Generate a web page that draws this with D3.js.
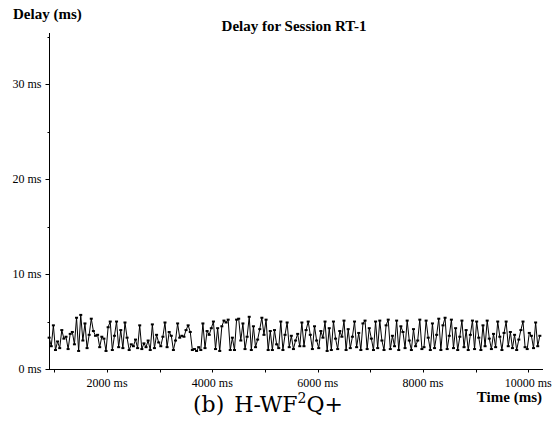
<!DOCTYPE html>
<html>
<head>
<meta charset="utf-8">
<script src="https://cdn.jsdelivr.net/npm/d3@7"></script>
<style>
  body { margin: 0; background: #fff; }
  text { font-family: "Liberation Serif", "DejaVu Serif", serif; fill: #000; }
  .bold { font-weight: bold; font-size: 15px; }
  .tick-label { font-size: 12px; }
</style>
</head>
<body>
<div id="chart-area"></div>
<script>
// Data: delay samples (ms), one every 40 ms starting at 900 ms
let startTime = 900;
let sampleStep = 40;
let delays = [
  3.3, 2.4, 4.6, 2.0, 2.9, 2.2, 4.1, 3.2, 3.4, 2.1,
  3.7, 3.9, 2.6, 5.4, 1.9, 5.7, 3.0, 4.8, 2.2, 3.6,
  5.3, 4.0, 3.5, 3.6, 2.3, 3.4, 3.2, 1.9, 4.4, 5.0,
  2.0, 3.5, 5.0, 2.3, 4.1, 2.2, 4.9, 3.3, 2.0, 2.6,
  2.4, 3.1, 2.2, 4.6, 2.1, 2.7, 2.3, 3.0, 2.0, 4.7,
  2.2, 3.6, 2.8, 2.4, 3.4, 4.9, 2.3, 3.9, 3.5, 2.0,
  3.0, 4.8, 3.3, 3.5, 3.4, 4.1, 4.6, 3.9, 2.0, 2.1,
  1.9, 2.3, 2.0, 4.8, 2.2, 4.0, 3.6, 4.3, 5.0, 2.1,
  4.3, 1.9, 4.5, 5.1, 4.9, 5.2, 2.0, 3.3, 2.0, 5.2,
  5.3, 3.0, 4.8, 2.1, 3.4, 5.5, 2.0, 4.5, 2.3, 3.1,
  4.2, 5.4, 3.6, 5.2, 2.0, 4.0, 2.0, 4.1, 2.6, 2.2,
  5.0, 2.0, 3.6, 4.9, 2.3, 3.5, 2.1, 3.0, 3.7, 2.4,
  4.9, 2.4, 4.1, 5.0, 3.6, 2.1, 4.5, 3.0, 2.2, 4.0,
  3.3, 5.0, 1.9, 4.3, 2.0, 5.0, 3.2, 2.1, 4.0, 3.4,
  5.1, 2.0, 4.2, 2.2, 3.4, 5.0, 2.3, 3.8, 2.0, 4.8,
  5.1, 2.1, 4.3, 3.2, 2.0, 5.0, 2.2, 5.1, 3.0, 2.0,
  4.6, 5.2, 2.1, 3.5, 2.4, 5.1, 2.0, 4.5, 3.9, 2.2,
  5.1, 3.0, 2.0, 4.2, 2.4, 3.0, 5.2, 2.1, 2.3, 5.1,
  3.3, 2.0, 4.8, 2.2, 3.6, 5.3, 2.0, 4.6, 5.4, 2.1,
  3.5, 5.2, 2.2, 4.3, 2.0, 3.4, 5.1, 2.3, 4.1, 2.0,
  3.6, 5.1, 2.1, 5.0, 3.3, 2.0, 4.6, 2.4, 5.1, 3.2,
  2.1, 3.7, 2.3, 5.0, 3.4, 2.0, 3.8, 5.0, 2.4, 3.9,
  2.2, 3.6, 2.0, 3.1, 4.1, 5.0, 2.3, 2.1, 3.8, 3.5,
  2.2, 4.9, 2.4, 3.5
];

let xTicks = [1000, 2000, 3000, 4000, 5000, 6000, 7000, 8000, 9000, 10000];
let xTickLabels = [2000, 4000, 6000, 8000, 10000];
let yTicks = [0, 10, 20, 30];
let yMinorTicks = [5, 15, 25, 35];

let data = delays.map((d, i) => ({ time: startTime + i * sampleStep, delay: d }));

// SVG drawing area
let width = 556, height = 433;
let svg = d3.select('#chart-area').append('svg')
  .attr('width', width)
  .attr('height', height);

// Scales
let x = d3.scaleLinear().domain([897, 10280]).range([49, 543]);
let y = d3.scaleLinear().domain([0, 35.4]).range([369, 33]);

// Axes
let xAxis = svg.append('g').attr('transform', 'translate(0,369.5)');
xAxis.append('line')
  .attr('x1', x.range()[0]).attr('x2', x.range()[1])
  .attr('stroke', '#000');
xAxis.selectAll('.xt').data(xTicks).enter().append('line')
  .attr('x1', d => Math.round(x(d)) + 0.5).attr('x2', d => Math.round(x(d)) + 0.5)
  .attr('y1', 0).attr('y2', 3)
  .attr('stroke', '#000');
xAxis.selectAll('.xl').data(xTickLabels).enter().append('text')
  .attr('class', 'tick-label')
  .attr('x', d => x(d)).attr('y', 17)
  .attr('text-anchor', 'middle')
  .text(d => d + ' ms');

let yAxis = svg.append('g').attr('transform', 'translate(49.5,0)');
yAxis.append('line')
  .attr('y1', y.range()[1]).attr('y2', y.range()[0])
  .attr('stroke', '#000');
yAxis.selectAll('.yt').data(yTicks).enter().append('line')
  .attr('y1', d => Math.round(y(d)) + 0.5).attr('y2', d => Math.round(y(d)) + 0.5)
  .attr('x1', -4).attr('x2', 0)
  .attr('stroke', '#000');
yAxis.selectAll('.ym').data(yMinorTicks).enter().append('line')
  .attr('y1', d => Math.round(y(d)) + 0.5).attr('y2', d => Math.round(y(d)) + 0.5)
  .attr('x1', -2).attr('x2', 0)
  .attr('stroke', '#000');
yAxis.selectAll('.yl').data(yTicks).enter().append('text')
  .attr('class', 'tick-label')
  .attr('x', -8).attr('y', d => y(d) + 4)
  .attr('text-anchor', 'end')
  .text(d => d + ' ms');

// Line and point markers
let line = d3.line().x(d => x(d.time)).y(d => y(d.delay));
svg.append('path')
  .datum(data)
  .attr('d', line)
  .attr('fill', 'none')
  .attr('stroke', '#000')
  .attr('stroke-width', 1);

svg.selectAll('.pt').data(data).enter().append('rect')
  .attr('x', d => x(d.time) - 1.5)
  .attr('y', d => y(d.delay) - 1)
  .attr('width', 3)
  .attr('height', 2)
  .attr('fill', '#000');

// Labels
svg.append('text').attr('class', 'bold')
  .attr('x', 13).attr('y', 19)
  .text('Delay (ms)');
svg.append('text').attr('class', 'bold')
  .attr('x', 294).attr('y', 31)
  .attr('text-anchor', 'middle')
  .text('Delay for Session RT-1');
svg.append('text').attr('class', 'bold')
  .attr('x', 542).attr('y', 402)
  .attr('text-anchor', 'end')
  .text('Time (ms)');

// Caption
let cap = svg.append('text')
  .attr('x', 268).attr('y', 412)
  .attr('text-anchor', 'middle')
  .style('font-size', '22px')
  .style('font-family', '"DejaVu Serif", serif');
cap.append('tspan').text('(b)');
cap.append('tspan').attr('dx', 10).text('H-WF');
cap.append('tspan').attr('dy', -9).style('font-size', '14px').text('2');
cap.append('tspan').attr('dy', 9).text('Q+');
</script>
</body>
</html>
